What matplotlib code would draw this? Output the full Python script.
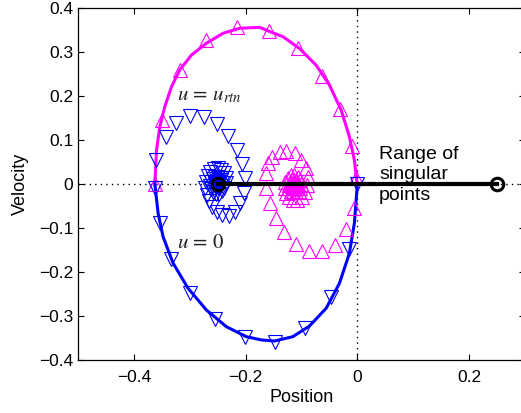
import matplotlib
matplotlib.use("Agg")
import matplotlib.pyplot as plt

plt.rcParams['font.family'] = ['Liberation Sans', 'DejaVu Sans']
plt.rcParams['mathtext.fontset'] = 'stix'

# Outer orbit, u = u_rtn (upper half), line points
mag_line_x = [-0.3625, -0.3595, -0.3536, -0.3446, -0.3327, -0.3179, -0.297, -0.2702, -0.2405, -0.2107,
              -0.175, -0.160, -0.1334, -0.1036, -0.0738, -0.05, -0.029, -0.0143, -0.0054, -0.0013, 0.0]
mag_line_y = [0.0, 0.077, 0.130, 0.176, 0.221, 0.259, 0.293, 0.320, 0.3425, 0.354,
              0.356, 0.348, 0.335, 0.308, 0.270, 0.225, 0.168, 0.1075, 0.0545, 0.009, 0.0]
# Outer orbit, u = 0 (lower half), line points
blu_line_x = [-0.3625, -0.3566, -0.3477, -0.3298, -0.303, -0.2702, -0.2345, -0.1988, -0.1714, -0.1482,
              -0.1155, -0.0857, -0.0559, -0.0321, -0.0143, -0.0054, -0.0013, 0.0]
blu_line_y = [0.0, -0.0666, -0.120, -0.180, -0.237, -0.2864, -0.3243, -0.347, -0.3545, -0.3568,
              -0.347, -0.3227, -0.2825, -0.2257, -0.1575, -0.0893, -0.0211, 0.0]

# Markers on outer orbit
mag_mk_x = [-0.3625, -0.3488, -0.3179, -0.2702, -0.2155, -0.1589, -0.1066, -0.063, -0.0309, -0.0095, -0.0023]
mag_mk_y = [0.0, 0.1455, 0.259, 0.327, 0.3575, 0.348, 0.308, 0.2455, 0.170, 0.0864, 0.013]
blu_mk_x = [-0.3625, -0.3536, -0.3327, -0.30, -0.2554, -0.2018, -0.1482, -0.0929, -0.047, -0.0143, -0.0013]
blu_mk_y = [-0.01, -0.088, -0.171, -0.247, -0.3075, -0.347, -0.3584, -0.328, -0.2575, -0.148, 0.0]

# Inner trajectory, u = 0 (blue, spiralling to -0.25)
blu_in_x = [-0.3607, -0.3429, -0.3238, -0.30, -0.275, -0.2512, -0.2316, -0.2155, -0.2059, -0.2018,
            -0.2036, -0.2107, -0.2196, -0.2298, -0.2416, -0.2512, -0.2595,
            -0.266, -0.270, -0.272, -0.271, -0.268, -0.263, -0.257, -0.250, -0.244, -0.239,
            -0.236, -0.236, -0.238, -0.242, -0.247, -0.253, -0.258, -0.262, -0.263, -0.262,
            -0.259, -0.255, -0.250, -0.246, -0.244, -0.243, -0.244, -0.247, -0.250, -0.253,
            -0.255, -0.255, -0.253, -0.251, -0.249, -0.248, -0.249, -0.251, -0.252, -0.251, -0.250]
blu_in_y = [0.0545, 0.106, 0.138, 0.1545, 0.153, 0.136, 0.109, 0.077, 0.0448, 0.013,
            -0.021, -0.044, -0.063, -0.0727, -0.0705, -0.063, -0.0516,
            -0.038, -0.024, -0.010, 0.005, 0.018, 0.028, 0.034, 0.036, 0.032, 0.024,
            0.014, 0.003, -0.008, -0.017, -0.022, -0.023, -0.019, -0.012, -0.004, 0.004,
            0.011, 0.015, 0.016, 0.013, 0.008, 0.002, -0.004, -0.008, -0.009, -0.007,
            -0.003, 0.002, 0.005, 0.006, 0.004, 0.001, -0.002, -0.002, 0.0, 0.002, 0.001]

# Inner trajectory, u = u_rtn (magenta, spiralling to about -0.115)
mag_in_x = [-0.0054, -0.0202, -0.0393, -0.063, -0.087, -0.1107, -0.1321, -0.1464, -0.1571, -0.163,
            -0.163, -0.1602, -0.1523, -0.1393, -0.1273, -0.1125, -0.1005, -0.0916, -0.0888,
            -0.090, -0.094, -0.100, -0.108, -0.116, -0.123, -0.128, -0.130, -0.129, -0.125,
            -0.119, -0.113, -0.107, -0.103, -0.101, -0.102, -0.105, -0.110, -0.115, -0.119,
            -0.122, -0.122, -0.120, -0.117, -0.113, -0.110, -0.108, -0.108, -0.110, -0.113,
            -0.116, -0.117, -0.117, -0.115, -0.113, -0.112, -0.113, -0.115, -0.115, -0.114]
mag_in_y = [-0.055, -0.103, -0.1386, -0.1516, -0.1516, -0.1364, -0.1084, -0.078, -0.0425, -0.0098,
            0.0243, 0.047, 0.062, 0.0734, 0.0757, 0.0698, 0.0545, 0.0357, 0.0166,
            -0.002, -0.018, -0.030, -0.036, -0.036, -0.030, -0.020, -0.008, 0.004, 0.014,
            0.020, 0.021, 0.017, 0.010, 0.001, -0.008, -0.015, -0.019, -0.019, -0.015,
            -0.009, -0.002, 0.004, 0.008, 0.009, 0.006, 0.001, -0.004, -0.008, -0.010,
            -0.008, -0.004, 0.000, 0.003, 0.003, 0.000, -0.003, -0.003, -0.001, 0.0]

# Range of singular points
sing_x = [-0.25, 0.25]
sing_y = [0.0, 0.0]

x_ticks = [-0.4, -0.2, 0, 0.2]
y_ticks = [-0.4, -0.3, -0.2, -0.1, 0, 0.1, 0.2, 0.3, 0.4]

MAG = '#ff00ff'
BLU = '#0000ff'

fig = plt.figure(figsize=(5.21, 4.13), dpi=100)
ax = fig.add_axes([78/521, 53/413, 447/521, 352/413])

ax.axhline(0, color='black', ls=(0, (1, 3)), lw=1.0, zorder=1)
ax.axvline(0, color='black', ls=(0, (1, 3)), lw=1.0, zorder=1)

ax.plot(mag_line_x, mag_line_y, color=MAG, lw=2.2, zorder=3)
ax.plot(blu_line_x, blu_line_y, color=BLU, lw=2.2, zorder=3)

mk = dict(ls='none', markersize=10.5, markerfacecolor='none', markeredgewidth=0.8, zorder=4)
ax.plot(mag_mk_x, mag_mk_y, marker='^', color=MAG, **mk)
ax.plot(blu_mk_x, blu_mk_y, marker='v', color=BLU, **mk)
ax.plot(blu_in_x, blu_in_y, marker='v', color=BLU, **mk)
ax.plot(mag_in_x, mag_in_y, marker='^', color=MAG, **mk)

ax.plot(sing_x, sing_y, color='black', lw=3, zorder=5)
ax.plot(sing_x, sing_y, ls='none', marker='o', markersize=9, markerfacecolor='none',
        markeredgecolor='black', markeredgewidth=2.2, zorder=6)

ax.text(-0.322, 0.19, r'$u\,=\,u_{rtn}$', fontsize=15, ha='left', va='baseline', color='#222222')
ax.text(-0.322, -0.1455, r'$u\,=\,\mathit{0}$', fontsize=15, ha='left', va='baseline', color='#222222')
ax.text(0.039, 0.0205, 'Range of\nsingular\npoints', fontsize=14, ha='left', va='center',
        linespacing=1.3, zorder=7)

ax.set_xlim(-0.5, 0.3)
ax.set_ylim(-0.4, 0.4)
ax.set_xticks(x_ticks)
ax.set_yticks(y_ticks)
ax.set_xticklabels(['\u22120.4', '\u22120.2', '0', '0.2'])
ax.set_yticklabels(['\u22120.4', '\u22120.3', '\u22120.2', '\u22120.1', '0', '0.1', '0.2', '0.3', '0.4'])
ax.tick_params(axis='x', pad=7)
ax.tick_params(direction='in', top=True, right=True, length=4, width=0.8, labelsize=12.5)
for s in ax.spines.values():
    s.set_linewidth(0.9)
ax.set_xlabel('Position', fontsize=13, labelpad=3)
ax.set_ylabel('Velocity', fontsize=13, labelpad=7)

fig.savefig('out.png', dpi=100)
